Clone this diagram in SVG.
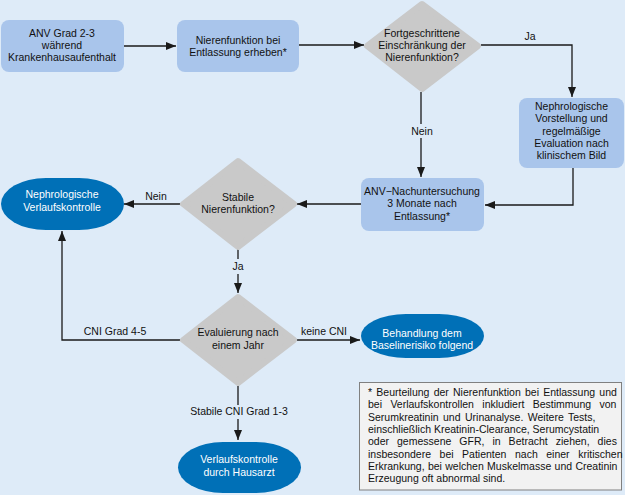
<svg xmlns="http://www.w3.org/2000/svg" width="625" height="495" viewBox="0 0 625 495">
<defs>
<marker id="ah" viewBox="0 0 10 8" refX="10" refY="4" markerWidth="10" markerHeight="8" markerUnits="userSpaceOnUse" orient="auto">
<path d="M0,0 L10,4 L0,8 Z" fill="#1a1a1a"/>
</marker>
<style>
text{font-family:"Liberation Sans",Arial,sans-serif;font-size:10.5px;fill:#111;text-anchor:middle}
.box{fill:#A9C5EB}
.dia{fill:#C9C9C9;stroke:#C9C9C9;stroke-width:6;stroke-linejoin:round}
.ell{fill:#0070B7}
.w{fill:#fff}
.con path{fill:none;stroke:#1a1a1a;stroke-width:1.3}
.lbl{fill:#DEEBF8}
.fn text{text-anchor:start}
</style>
</defs>
<rect x="0" y="0" width="625" height="495" fill="#DEEBF8"/>
<g class="con">
<path d="M124,46 H176" marker-end="url(#ah)"/>
<path d="M299,45 H364" marker-end="url(#ah)"/>
<path d="M481,45 H572 V97" marker-end="url(#ah)"/>
<path d="M421,92 V177" marker-end="url(#ah)"/>
<path d="M573,168 V205 H485" marker-end="url(#ah)"/>
<path d="M361,204 H297" marker-end="url(#ah)"/>
<path d="M180,204 H124" marker-end="url(#ah)"/>
<path d="M238,249 V293" marker-end="url(#ah)"/>
<path d="M180,340 H62 V231" marker-end="url(#ah)"/>
<path d="M297,340 H360" marker-end="url(#ah)"/>
<path d="M238,386 V440" marker-end="url(#ah)"/>
<rect class="lbl" x="408" y="124" width="28" height="14"/>
<text x="422" y="135">Nein</text>
<text x="530" y="40">Ja</text>
<text x="156" y="200">Nein</text>
<rect class="lbl" x="228" y="259" width="20" height="15"/>
<text x="238" y="270">Ja</text>
<text x="115" y="335">CNI Grad 4-5</text>
<text x="324" y="335">keine CNI</text>
<rect class="lbl" x="186" y="405" width="104" height="14"/>
<text x="239" y="415">Stabile CNI Grad 1-3</text>
</g>
<g id="n1">
<rect class="box" x="1" y="20" width="123" height="52" rx="8"/>
<text x="62" y="36.5">ANV Grad 2-3</text>
<text x="62" y="48.8">während</text>
<text x="62" y="61">Krankenhausaufenthalt</text>
</g>
<g id="n2">
<rect class="box" x="177" y="20" width="122" height="52" rx="8"/>
<text x="238" y="43.5">Nierenfunktion bei</text>
<text x="238" y="55.8">Entlassung erheben*</text>
</g>
<g id="d1">
<polygon class="dia" points="422,4 478,46 422,89 367,46"/>
<text x="422" y="37">Fortgeschrittene</text>
<text x="422" y="49">Einschränkung der</text>
<text x="422" y="61">Nierenfunktion?</text>
</g>
<g id="n3">
<rect class="box" x="519" y="98" width="105" height="70" rx="8"/>
<text x="571.5" y="110">Nephrologische</text>
<text x="571.5" y="122.3">Vorstellung und</text>
<text x="571.5" y="134.6">regelmäßige</text>
<text x="571.5" y="146.9">Evaluation nach</text>
<text x="571.5" y="159.2">klinischem Bild</text>
</g>
<g id="n4">
<rect class="box" x="361" y="178" width="123" height="53" rx="8"/>
<text x="422" y="194.5">ANV−Nachuntersuchung</text>
<text x="422" y="207">3 Monate nach</text>
<text x="422" y="219.5">Entlassung*</text>
</g>
<g id="d2">
<polygon class="dia" points="238,161 294,204 238,247 183,204"/>
<text x="238" y="200.5">Stabile</text>
<text x="238" y="213">Nierenfunktion?</text>
</g>
<g id="e1">
<rect class="ell" x="1" y="178" width="123" height="52" rx="45" ry="26"/>
<text class="w" x="62" y="198">Nephrologische</text>
<text class="w" x="62" y="210.5">Verlaufskontrolle</text>
</g>
<g id="d3">
<polygon class="dia" points="238,297 294,340 238,383 183,340"/>
<text x="238" y="336">Evaluierung nach</text>
<text x="238" y="348.5">einem Jahr</text>
</g>
<g id="e2">
<rect class="ell" x="361" y="314" width="123" height="44" rx="45" ry="22"/>
<text class="w" x="422" y="336.5">Behandlung dem</text>
<text class="w" x="422" y="348.5">Baselinerisiko folgend</text>
</g>
<g id="e3">
<rect class="ell" x="178" y="442" width="123" height="51" rx="45" ry="25.5"/>
<text class="w" x="239" y="463">Verlaufskontrolle</text>
<text class="w" x="239" y="475.5">durch Hausarzt</text>
</g>
<g id="fn" class="fn">
<rect x="359.5" y="382.5" width="262" height="107.5" fill="#F2F2F2" stroke="#808080" stroke-width="1"/>
<text x="368" y="396" word-spacing="1.3">* Beurteilung der Nierenfunktion bei Entlassung und</text>
<text x="368" y="408.3" word-spacing="5.5">bei Verlaufskontrollen inkludiert Bestimmung von</text>
<text x="368" y="420.6" word-spacing="1.5">Serumkreatinin und Urinanalyse. Weitere Tests,</text>
<text x="368" y="432.9">einschließlich Kreatinin-Clearance, Serumcystatin</text>
<text x="368" y="445.2" word-spacing="5.1">oder gemessene GFR, in Betracht ziehen, dies</text>
<text x="368" y="457.5" word-spacing="5.6">insbesondere bei Patienten nach einer kritischen</text>
<text x="368" y="469.8" word-spacing="0.4">Erkrankung, bei welchen Muskelmasse und Creatinin</text>
<text x="368" y="482.1">Erzeugung oft abnormal sind.</text>
</g>
</svg>
